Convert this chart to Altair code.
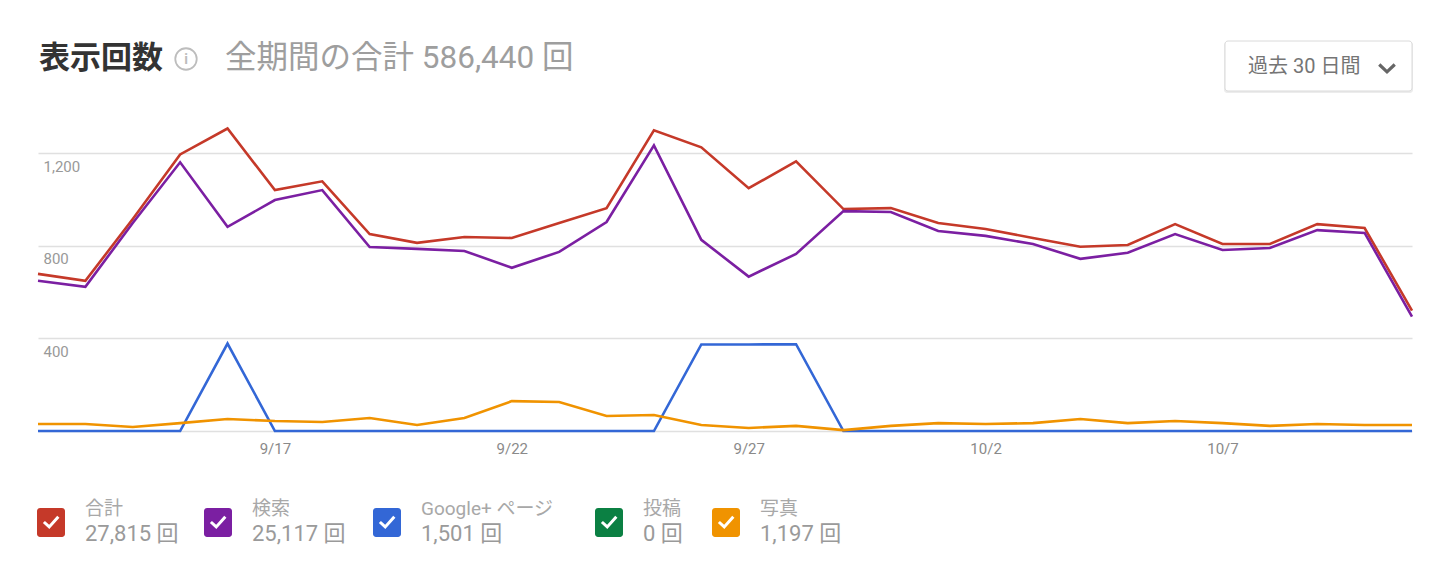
import altair as alt
import pandas as pd

# ---------------- data ----------------
dates = ["9/12", "9/13", "9/14", "9/15", "9/16", "9/17", "9/18", "9/19", "9/20", "9/21",
         "9/22", "9/23", "9/24", "9/25", "9/26", "9/27", "9/28", "9/29", "9/30", "10/1",
         "10/2", "10/3", "10/4", "10/5", "10/6", "10/7", "10/8", "10/9", "10/10", "10/11"]

total = [679, 649, 916, 1195, 1307, 1041, 1079, 851, 813, 838,
         834, 899, 963, 1299, 1226, 1049, 1165, 959, 963, 899,
         873, 834, 796, 804, 894, 808, 808, 894, 877, 520]
search = [649, 623, 899, 1161, 882, 998, 1041, 795, 787, 778,
          705, 774, 903, 1234, 826, 667, 765, 950, 946, 864,
          843, 808, 744, 770, 851, 782, 791, 868, 856, 494]
gplus = [0, 0, 0, 0, 378, 0, 0, 0, 0, 0,
         0, 0, 0, 0, 374, 374, 375, 0, 0, 0,
         0, 0, 0, 0, 0, 0, 0, 0, 0, 0]
posts = [0, 0, 0, 0, 0, 0, 0, 0, 0, 0,
         0, 0, 0, 0, 0, 0, 0, 0, 0, 0,
         0, 0, 0, 0, 0, 0, 0, 0, 0, 0]
photos = [30, 30, 17, 34, 52, 43, 39, 56, 26, 56,
          129, 125, 65, 69, 26, 13, 22, 4, 22, 34,
          30, 34, 52, 34, 43, 34, 22, 30, 26, 26]

series_names = ["合計", "検索", "Google+ ページ", "投稿", "写真"]
series_totals = ["27,815", "25,117", "1,501", "0", "1,197"]
x_ticks = ["9/17", "9/22", "9/27", "10/2", "10/7"]
y_ticks = [0, 400, 800, 1200]

title_main = "表示回数"
title_sub = "全期間の合計 586,440 回"
range_label = "過去 30 日間"
unit = "回"

# ---------------- style / layout ----------------
series_colors = ["#c53929", "#7b1fa2", "#3367d6", "#0b8043", "#f09300"]
# the all-zero 投稿 line is hidden beneath the others in the original
draw_order = [0, 1, 2, 4]
legend_page_x = [37, 204, 373, 595, 712]
PAD_L, PAD_T = 38, 107
W, H = 1374, 324
FONT = "Roboto, 'Noto Sans CJK JP', sans-serif"
CJK = "'Noto Sans CJK JP', Roboto, sans-serif"

values = [total, search, gplus, posts, photos]
rows = []
for name, vals in zip(series_names, values):
    for d, v in zip(dates, vals):
        rows.append({"date": d, "series": name, "value": v})
df = pd.DataFrame(rows)

x_enc = alt.X("date:O", sort=dates,
              scale=alt.Scale(type="point", padding=0),
              axis=alt.Axis(values=x_ticks, title=None, domain=False, ticks=False,
                            tickSize=0, labelPadding=10, labelAngle=0,
                            labelFontSize=15, labelColor="#8a8a8a", labelFont=FONT,
                            grid=False))
y_enc = alt.Y("value:Q",
              scale=alt.Scale(domain=[0, 1400], nice=False, zero=True),
              axis=alt.Axis(values=y_ticks, title=None, domain=False, ticks=False,
                            tickSize=0, format=",d",
                            labelExpr="datum.value == 0 ? '' : datum.label",
                            labelAlign="left", labelBaseline="middle",
                            labelPadding=-5, labelOffset=13,
                            labelFontSize=15, labelColor="#999999", labelFont=FONT,
                            grid=True, gridColor="#e0e0e0", gridWidth=1.5))

base = alt.Chart(df)
line_layers = []
for i in draw_order:
    line_layers.append(
        base.transform_filter(alt.datum.series == series_names[i])
        .mark_line(color=series_colors[i], strokeWidth=2.6, interpolate="linear")
        .encode(x=x_enc, y=y_enc)
    )

one = pd.DataFrame({"k": [0]})

title1 = alt.Chart(one).mark_text(align="left", baseline="middle", font=CJK,
                                  fontSize=31, fontWeight="bold", color="#333333").encode(
    x=alt.value(1), y=alt.value(-48), text=alt.value(title_main))
info_circle = alt.Chart(one).mark_point(shape="circle", filled=False, size=460,
                                        strokeWidth=1.8, color="#bdbdbd", opacity=1).encode(
    x=alt.value(148), y=alt.value(-48))
info_i = alt.Chart(one).mark_text(align="center", baseline="middle", font="Roboto",
                                  fontSize=14, fontWeight="bold", color="#bdbdbd").encode(
    x=alt.value(148), y=alt.value(-47), text=alt.value("i"))
title2 = alt.Chart(one).mark_text(align="left", baseline="middle", font=FONT,
                                  fontSize=31.5, color="#9e9e9e").encode(
    x=alt.value(187), y=alt.value(-48), text=alt.value(title_sub))

box_shadow = alt.Chart(one).mark_rect(cornerRadius=3, color="#ececec").encode(
    x=alt.value(1186), x2=alt.value(1375), y=alt.value(-65), y2=alt.value(-14))
box = alt.Chart(one).mark_rect(cornerRadius=3, fill="white", stroke="#dadada",
                               strokeWidth=1).encode(
    x=alt.value(1187), x2=alt.value(1374), y=alt.value(-66), y2=alt.value(-16))
box_text = alt.Chart(one).mark_text(align="left", baseline="middle", font=FONT,
                                    fontSize=20, color="#757575").encode(
    x=alt.value(1210), y=alt.value(-40), text=alt.value(range_label))
chevron = alt.Chart(one).mark_point(shape="M-1,-0.45L0,0.5L1,-0.45", filled=False,
                                    size=240, strokeWidth=3.2, color="#666666",
                                    opacity=1).encode(
    x=alt.value(1349), y=alt.value(-39))

leg = pd.DataFrame({
    "name": series_names,
    "total": [t + " " + unit for t in series_totals],
    "lx": [x - PAD_L for x in legend_page_x],
})
legbase = alt.Chart(leg).transform_calculate(
    lx2="datum.lx + 28", cx="datum.lx + 14", tx="datum.lx + 48")
color_enc = alt.Color("name:N", scale=alt.Scale(domain=series_names, range=series_colors),
                      legend=None)
leg_box = legbase.mark_rect(cornerRadius=3).encode(
    x=alt.X("lx:Q", scale=None), x2="lx2:Q",
    y=alt.value(401), y2=alt.value(430), color=color_enc)
leg_check = legbase.mark_point(shape="M-0.6,0L-0.15,0.42L0.62,-0.45", filled=False,
                               size=560, strokeWidth=3, color="white", opacity=1).encode(
    x=alt.X("cx:Q", scale=None), y=alt.value(415))
leg_name = legbase.mark_text(align="left", baseline="middle", font=FONT,
                             fontSize=19, color="#a8a8a8").encode(
    x=alt.X("tx:Q", scale=None), y=alt.value(402), text="name:N")
leg_total = legbase.mark_text(align="left", baseline="middle", font=FONT,
                              fontSize=22, color="#9a9a9a").encode(
    x=alt.X("tx:Q", scale=None), y=alt.value(427), text="total:N")

chart = alt.layer(
    *line_layers,
    title1, info_circle, info_i, title2,
    box_shadow, box, box_text, chevron,
    leg_box, leg_check, leg_name, leg_total,
).properties(
    width=W, height=H,
    padding={"left": PAD_L, "top": PAD_T, "right": 1452 - PAD_L - W, "bottom": 587 - PAD_T - H},
    autosize=alt.AutoSizeParams(type="none"),
    background="white",
).configure_view(stroke=None)

chart.save("out.html", embed_options={"renderer": "svg", "actions": False})
